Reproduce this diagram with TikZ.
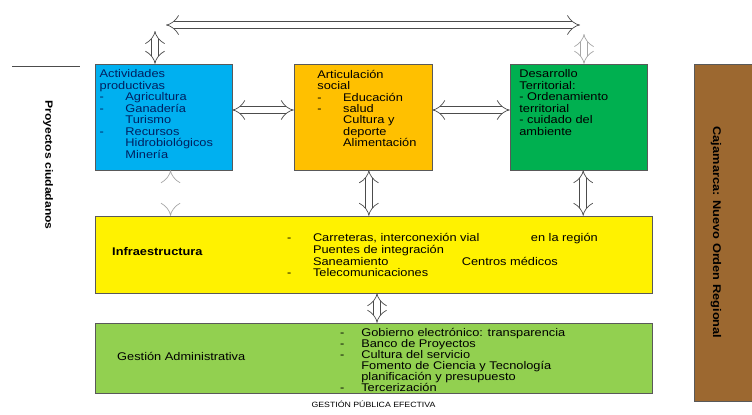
\documentclass[tikz,border=0pt]{standalone}
\usepackage{fontspec}
\setmainfont{Liberation Sans}[FakeStretch=1.15]
\usepackage{tikz}
\usetikzlibrary{arrows.meta,fit,positioning}

\definecolor{skyblue}{RGB}{0,176,240}
\definecolor{amber}{RGB}{255,192,0}
\definecolor{kelly}{RGB}{0,176,80}
\definecolor{lgreen}{RGB}{146,208,80}
\definecolor{brownbox}{RGB}{156,104,48}
\definecolor{navy}{RGB}{0,32,96}

\newcommand\bul[1][22pt]{\makebox[#1][l]{-}}
\newcommand\ind[1][22pt]{\hspace*{#1}}

\tikzset{
  box/.style={draw=black!65, thin, inner sep=0pt},
  txt/.style={anchor=north west, align=left, inner sep=0pt,
    font=\fontsize{9.5}{9.8}\selectfont},
  dblarr/.style={draw=black!70, line width=0.6pt, double=white,
    double distance=5.5pt, {Implies}-{Implies}},
  faintarr/.style={dblarr, draw=black!35},
}

\begin{document}
\begin{tikzpicture}[x=0.03cm, y=-0.03cm]
\useasboundingbox (0,0) rectangle (752,414);

% the boxes
\node[box, fill=skyblue, fit={(95,64) (232,170)}] (prod) {};
\node[box, fill=amber, fit={(294,64) (432,170)}] (soc) {};
\node[box, fill=kelly, fit={(510,64) (647,170)}] (terr) {};
\node[box, fill=yellow, fit={(95,216) (652,293)}] (infra) {};
\node[box, fill=lgreen, fit={(95,323) (652,393)}] (gest) {};
\node[box, fill=brownbox, fit={(694,64) (760,401)}] (region) {};

% texts of the top row
\node[txt, text=navy, below right=5pt and 4pt of prod.north west] (prodtxt)
  {Actividades\\productivas\\\bul Agricultura\\\bul Ganadería\\\ind Turismo\\
   \bul Recursos\\\ind Hidrobiológicos\\\ind Minería};
\node[txt, below right=5pt and 20pt of soc.north west] (soctxt)
  {Articulación\\social\\\bul Educación\\\bul salud\\\ind Cultura y\\
   \ind deporte\\\ind Alimentación};
\node[txt, below right=5pt and 8pt of terr.north west] (terrtxt)
  {Desarrollo\\Territorial:\\- Ordenamiento\\territorial\\- cuidado del\\ambiente};

% texts of the wide boxes
\node[txt, anchor=west, font=\bfseries\fontsize{9.5}{9.8}\selectfont] (infrahead)
  at (112,252) {Infraestructura};
\node[txt, anchor=west, font=\fontsize{9.5}{10.2}\selectfont] (infratxt) at (287,255)
  {\bul\makebox[186pt][l]{Carreteras, interconexión vial}en la región\\
   \ind Puentes de integración\\
   \ind\makebox[127pt][l]{Saneamiento}Centros médicos\\
   \bul Telecomunicaciones};
\node[txt, anchor=west] (gesthead) at (117,356) {Gestión Administrativa};
\node[txt, font=\fontsize{9.5}{9.4}\selectfont] (gesttxt) at (340,328)
  {\bul[18pt]Gobierno electrónico: transparencia\\
   \bul[18pt]Banco de Proyectos\\
   \bul[18pt]Cultura del servicio\\
   \ind[18pt]Fomento de Ciencia y Tecnología\\
   \ind[18pt]planificación y presupuesto\\
   \bul[18pt]Tercerización};
\node[font=\fontsize{6.5}{7}\selectfont, below=3pt of gest] (cap)
  {GESTIÓN PÚBLICA EFECTIVA};

% side texts
\draw[black!70, thin] (12,66) -- (80,66);
\node[font=\bfseries\fontsize{9}{9}\selectfont, rotate=-90] (proy) at (48,165)
  {Proyectos ciudadanos};
\node[font=\bfseries\fontsize{9.5}{9.5}\selectfont, rotate=-90] (regtxt)
  at (region.center -| 716,0) {Cajamarca: Nuevo Orden Regional};

% arrows
\coordinate (hy) at (0,110);
\coordinate (loopL) at (166,25);
\coordinate (loopR) at (580,25);
\coordinate (vL) at (155,31);
\coordinate (vR) at (584,34);
\draw[dblarr] (prod.east |- hy) -- (soc.west |- hy);
\draw[dblarr] (soc.east |- hy) -- (terr.west |- hy);
\draw[dblarr] ([xshift=5pt]soc.south) -- ([xshift=5pt]soc.south |- infra.north);
\draw[dblarr] ([xshift=4pt]terr.south) -- ([xshift=4pt]terr.south |- infra.north);
\draw[dblarr] ([xshift=3pt]infra.south) -- ([xshift=3pt]infra.south |- gest.north);
\draw[dblarr] (loopL) -- (loopR);
\draw[dblarr] (vL) -- (vL |- prod.north);
\draw[faintarr] ([xshift=6pt]prod.south) -- ([xshift=6pt]prod.south |- infra.north);
\draw[faintarr] (vR) -- (vR |- terr.north);
\end{tikzpicture}
\end{document}
